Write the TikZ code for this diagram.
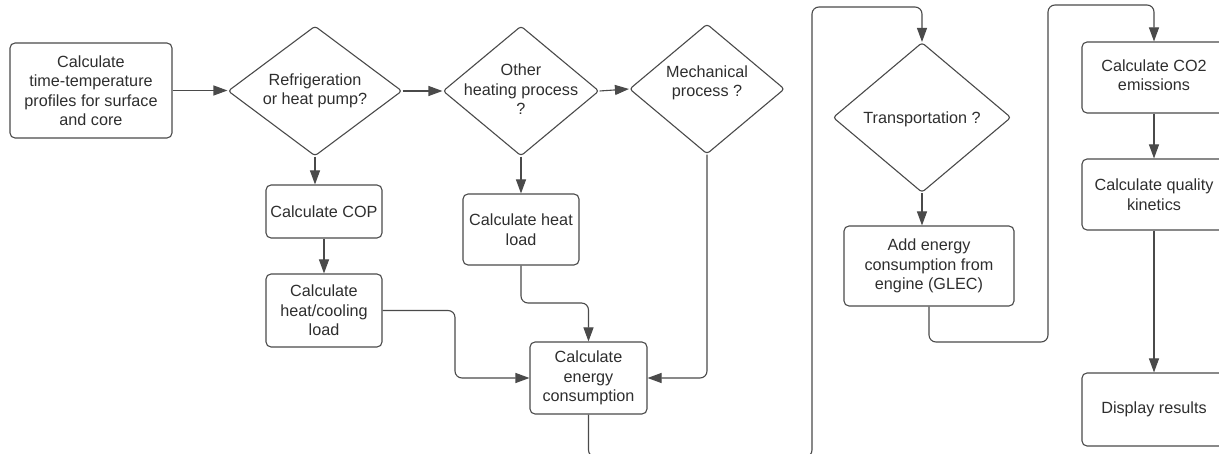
\documentclass[tikz,border=0pt]{standalone}
\usepackage{fontspec}
\setmainfont{Liberation Sans}
\usetikzlibrary{arrows.meta,shapes.geometric}
\definecolor{linec}{HTML}{4A4A4A}
\definecolor{textc}{HTML}{2E2E2E}
\begin{document}
\begin{tikzpicture}[x=1pt,y=-1pt,
  every node/.style={font=\fontsize{16.2}{19.5}\selectfont, text=textc},
  procbox/.style={draw=linec, line width=1.1pt, rounded corners=5pt, rectangle, inner sep=0pt, align=center},
  decbox/.style={draw=linec, line width=1.1pt, rounded corners=3pt, diamond, inner sep=0pt, aspect=1},
  lbl/.style={align=center, inner sep=0pt},
  conn/.style={draw=linec, line width=1.1pt, rounded corners=7pt, -{Triangle[length=14pt,width=10pt]}},
  plain/.style={draw=linec, line width=1.1pt, rounded corners=7pt}]
\useasboundingbox (0,0) rectangle (1219,454);
\clip (0,0) rectangle (1219,454);

% process boxes
\node[procbox, minimum width=162pt, minimum height=95pt] (b1) at (91,90.5) {Calculate\\time-temperature\\profiles for surface\\and core};
\node[procbox, minimum width=116pt, minimum height=53pt] (cop) at (324,211.5) {Calculate COP};
\node[procbox, minimum width=116pt, minimum height=73pt] (hcl) at (324,310.5) {Calculate\\heat/cooling\\load};
\node[procbox, minimum width=116pt, minimum height=71pt] (hl) at (521,229.5) {Calculate heat\\load};
\node[procbox, minimum width=117pt, minimum height=72pt] (ec) at (588.5,378) {Calculate\\energy\\consumption};
\node[procbox, minimum width=170pt, minimum height=80pt] (ae) at (929,266) {Add energy\\consumption from\\engine (GLEC)};
\node[procbox, minimum width=144pt, minimum height=71pt] (co2) at (1154,77.5) {};
\node[lbl] at ([yshift=2.5pt]co2) {Calculate CO2\\emissions};
\node[procbox, minimum width=144pt, minimum height=71pt] (ql) at (1154,194.5) {Calculate quality\\kinetics};
\node[procbox, minimum width=144pt, minimum height=73pt] (dr) at (1154,409.5) {Display results};

% decisions
\node[decbox, minimum width=174pt, minimum height=130pt] (d1) at (315,91) {};
\node[lbl] at (d1) {Refrigeration\\or heat pump?};
\node[decbox, minimum width=156pt, minimum height=130pt] (d2) at (521,91) {};
\node[lbl] at ([yshift=1.5pt]d2) {Other\\heating process\\?};
\node[decbox, minimum width=155pt, minimum height=130pt] (d3) at (707,89) {};
\node[lbl] at ([yshift=6pt]d3) {Mechanical\\process ?};
\node[decbox, minimum width=178pt, minimum height=150pt] (d4) at (922,117.5) {};
\node[lbl] at ([yshift=-1.5pt]d4) {Transportation ?};

% connectors
\draw[conn] (b1.east) -- (b1.east -| d1.west);
\draw[conn] (d1.east) -- (d2.west);
\draw[conn] (d2.east) -- (d3.west);
\draw[conn] (d1.south) -- (d1.south |- cop.north);
\draw[conn] (cop.south) -- (hcl.north);
\draw[conn] (d2.south) -- (hl.north);
\draw[conn] (hcl.east) -- (455,310.5) -- (455,378) -- (ec.west);
\draw[conn] (hl.south) -- (521,303) -- (588.5,303) -- (ec.north);
\draw[conn] (d3.south) |- (ec.east);
\draw[conn] (ec.south) -- (588.5,457) -- (812,457) -- (812,7) -- (922,7) -- (d4.north);
\draw[conn] (d4.south) -- (d4.south |- ae.north);
\draw[conn] (ae.south) -- (929,342) -- (1048,342) -- (1048,5) -- (1154,5) -- (co2.north);
\draw[conn] (co2.south) -- (ql.north);
\draw[conn] (ql.south) -- (dr.north);
\end{tikzpicture}
\end{document}
